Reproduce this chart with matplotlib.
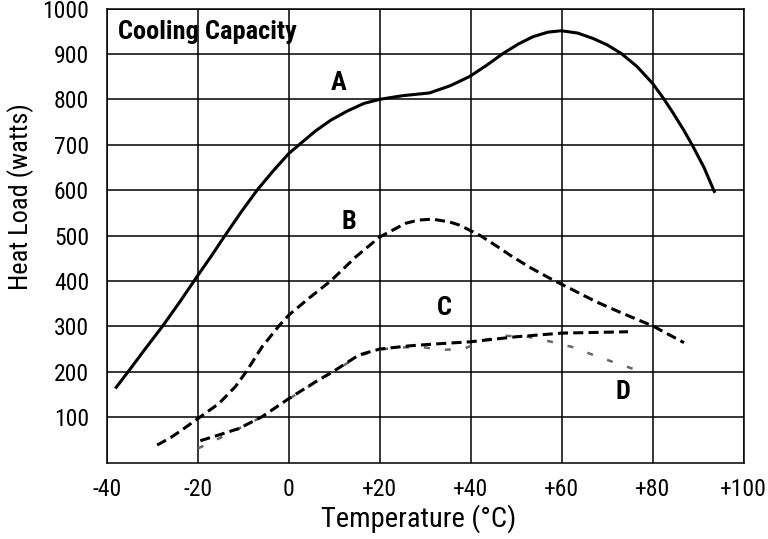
import matplotlib.pyplot as plt

# curve A - solid
a_x = [-38.2, -35, -31.5, -27.9, -24, -20.4, -17, -14, -10.5, -7, -3.5, 0, 2.6, 5.8, 9.2, 12.8, 16.5,
       20, 25, 30.9, 35.5, 39.7, 43.5, 47.1, 50.5, 53.7, 57, 59.9, 63.5, 66.9, 70, 73.1, 76.6, 80,
       82.4, 84.5, 86.8, 88.9, 91.3, 93.7]
a_y = [163, 205, 252, 299, 354, 407, 456, 501, 552, 600, 642, 681, 703, 730, 754, 774, 791,
       800, 808, 814, 830, 850, 875, 901, 922, 938, 948, 951, 946, 934, 920, 901, 872, 835,
       802, 770, 733, 696, 650, 594]

# curve B - dashed
b_x = [-29, -26, -23.5, -20, -15.4, -11.8, -9.4, -5.9, -2.2, 0, 4.4, 9.2, 14.7, 20, 25.7, 28.5,
       31.6, 35.3, 37.5, 41.9, 45.5, 49.2, 53.5, 58.1, 62.5, 67.6, 73.5, 80, 86.9]
b_y = [38.5, 55, 72, 97, 130, 167, 200, 255, 301, 325, 362, 400, 453, 497, 527, 534,
       536, 530, 523, 501, 478, 453, 427, 402, 380, 354, 328, 301, 264]

# curve C - dashed
c_x = [-19.5, -15, -11, -5.9, 0, 5.9, 10.3, 15.4, 20, 26.5, 32, 40, 50, 60, 74.6]
c_y = [48, 62, 75, 101, 141, 178, 204, 237, 250, 257, 261, 266, 277, 285, 288]

# curve D - grey dotted
d_x = [-20, -15.4, -11, -5.9, 0, 5.9, 10.3, 15.4, 20, 24, 28.7, 33.8, 38.6, 43, 47.8, 52.6, 57.7,
       62.5, 66.9, 71.7, 76.4]
d_y = [31, 53, 75, 101, 140, 177, 203, 235, 249, 253, 255, 248, 251, 270, 279, 277, 266,
       254, 237, 220, 204]

x_ticks = [-40, -20, 0, 20, 40, 60, 80, 100]
x_labels = ["-40", "-20", "0", "+20", "+40", "+60", "+80", "+100"]
y_ticks = [100, 200, 300, 400, 500, 600, 700, 800, 900, 1000]

plt.rcParams["font.family"] = ["Roboto Condensed", "DejaVu Sans"]

fig = plt.figure(figsize=(7.68, 5.39), dpi=100)
ax = fig.add_axes([0.1395, 0.1419, 0.8286, 0.8423])

ax.plot(a_x, a_y, color="black", lw=2.2, solid_capstyle="butt")
ax.plot(b_x, b_y, color="black", lw=2.2, dashes=(3.3, 1.7), dash_capstyle="butt")
ax.plot(d_x, d_y, color="#666666", lw=1.8, dashes=(2.4, 6.0), dash_capstyle="butt")
ax.plot(c_x, c_y, color="black", lw=2.2, dashes=(3.3, 1.7), dash_capstyle="butt")

ax.set_xlim(-40, 100)
ax.set_ylim(0, 1000)
ax.set_xticks(x_ticks)
ax.set_xticklabels(x_labels)
ax.set_yticks(y_ticks)
ax.tick_params(length=0, labelsize=17)
ax.tick_params(axis="x", pad=11)
ax.tick_params(axis="y", pad=13)
ax.grid(True, color="black", lw=1.1)
for s in ax.spines.values():
    s.set_linewidth(1.1)

# axis titles placed like the original (not centred on the axes)
fig.text(419 / 768, (539 - 527) / 539, "Temperature (°C)", fontsize=20.5, ha="center", va="baseline")
fig.text(21 / 768, (539 - 197) / 539, "Heat Load (watts)", fontsize=19, rotation=90,
         ha="center", va="center")

ax.text(-37.5, 948, "Cooling Capacity", fontsize=19, fontweight="bold", va="center", ha="left")
ax.text(11, 836, "A", fontsize=19, fontweight="bold", ha="center", va="center")
ax.text(13.2, 530, "B", fontsize=19, fontweight="bold", ha="center", va="center")
ax.text(34.2, 340, "C", fontsize=19, fontweight="bold", ha="center", va="center")
ax.text(73.4, 156, "D", fontsize=19, fontweight="bold", ha="center", va="center")

fig.savefig("out.png", dpi=100)
